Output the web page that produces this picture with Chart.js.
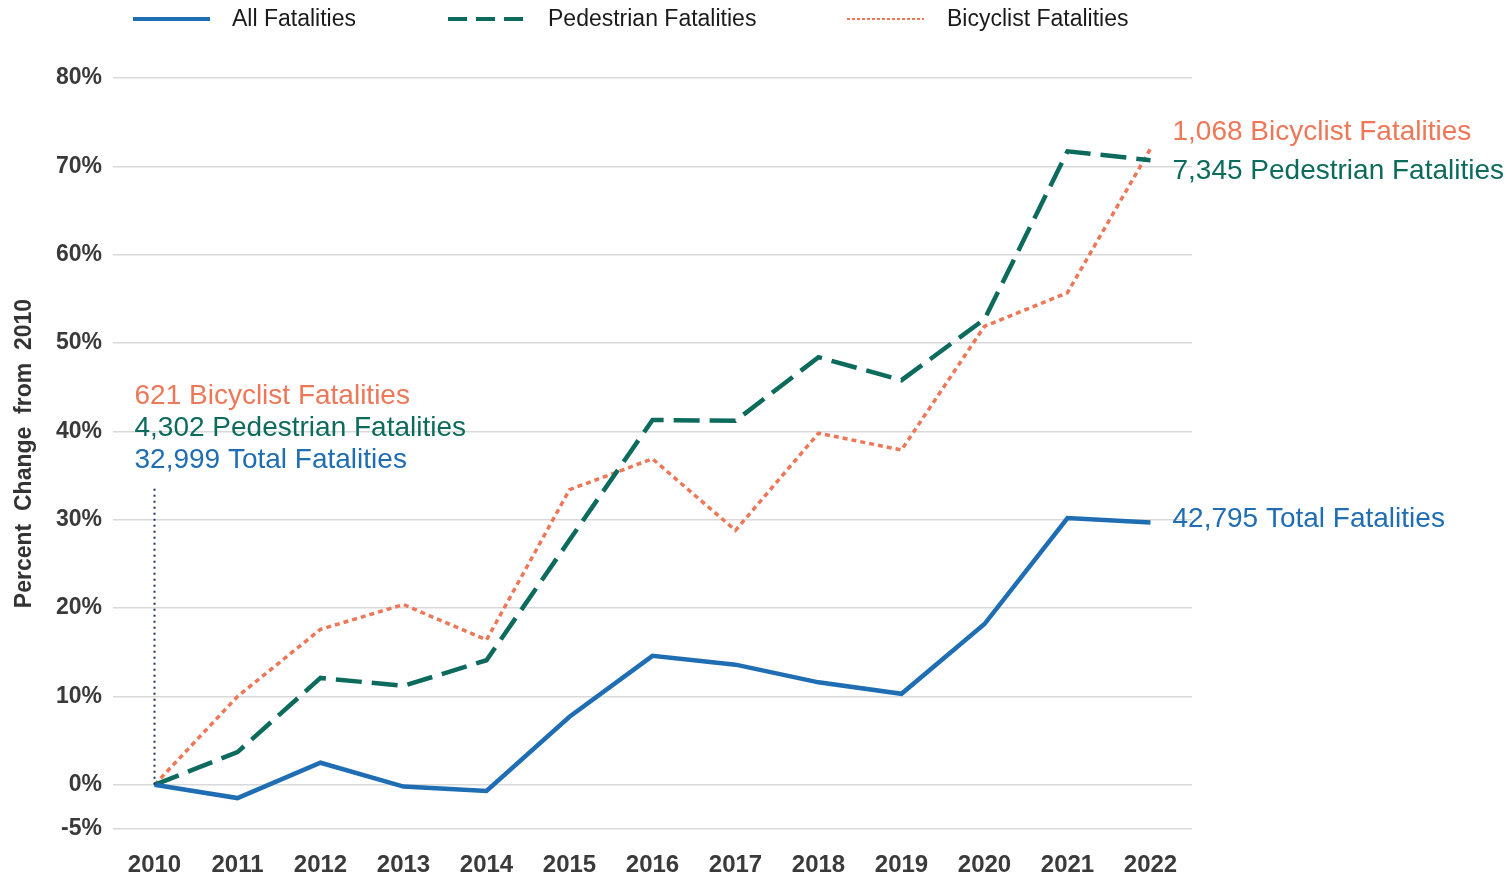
<!DOCTYPE html>
<html>
<head>
<meta charset="utf-8">
<script src="https://cdn.jsdelivr.net/npm/chart.js@4/dist/chart.umd.min.js"></script>
<style>
html,body{margin:0;padding:0;background:#fff;}
#wrap{width:1507px;height:876px;position:relative;}
</style>
</head>
<body>
<div id="wrap"><canvas id="mychart"></canvas></div>
<script>
// years and percent change from 2010
var years = ['2010','2011','2012','2013','2014','2015','2016','2017','2018','2019','2020','2021','2022']
var allFatal = [0, -1.5, 2.5, -0.2, -0.7, 7.7, 14.6, 13.6, 11.6, 10.3, 18.2, 30.2, 29.7]
var pedFatal = [0, 3.7, 12.1, 11.2, 14.1, 27.7, 41.3, 41.2, 48.4, 45.8, 52.7, 71.7, 70.7]
var bikeFatal = [0, 10.0, 17.6, 20.4, 16.4, 33.4, 36.9, 28.8, 39.8, 37.9, 51.9, 55.7, 72.0]
var yTicks = [-5, 0, 10, 20, 30, 40, 50, 60, 70, 80]
var seriesNames = ['All Fatalities', 'Pedestrian Fatalities', 'Bicyclist Fatalities']
var startLabels = ['621 Bicyclist Fatalities', '4,302 Pedestrian Fatalities', '32,999 Total Fatalities']
var endLabels = ['1,068 Bicyclist Fatalities', '7,345 Pedestrian Fatalities', '42,795 Total Fatalities']

var BLUE = '#1f6db3', TEAL = '#0d6b5d', ORANGE = '#ee7757', NAVY = '#1c3562'
var FAM = '"Liberation Sans", Arial, sans-serif'
var annoFont = '28px ' + FAM

var extras = {
  id: 'extras',
  afterDatasetsDraw: function(chart){
    var ctx = chart.ctx
    var xs = chart.scales.x, ys = chart.scales.y
    ctx.save()
    // dotted marker at 2010
    var x0 = xs.getPixelForValue(0)
    ctx.strokeStyle = NAVY
    ctx.lineWidth = 2
    ctx.setLineDash([2, 4])
    ctx.beginPath()
    ctx.moveTo(x0, ys.getPixelForValue(0))
    ctx.lineTo(x0, ys.getPixelForValue(33.6))
    ctx.stroke()
    ctx.restore()
  },
  afterDraw: function(chart){
    var ctx = chart.ctx
    var xs = chart.scales.x, ys = chart.scales.y
    ctx.save()
    ctx.font = annoFont
    ctx.textBaseline = 'middle'
    ctx.textAlign = 'left'
    var x0 = xs.getPixelForValue(0) - 20
    ctx.fillStyle = ORANGE; ctx.fillText(startLabels[0], x0, ys.getPixelForValue(44.0))
    ctx.fillStyle = TEAL; ctx.fillText(startLabels[1], x0, ys.getPixelForValue(40.3))
    ctx.fillStyle = BLUE; ctx.fillText(startLabels[2], x0, ys.getPixelForValue(36.7))
    var last = years.length - 1
    var x1 = xs.getPixelForValue(last) + 22
    ctx.fillStyle = ORANGE; ctx.fillText(endLabels[0], x1, ys.getPixelForValue(bikeFatal[last]) - 16)
    ctx.fillStyle = TEAL; ctx.fillText(endLabels[1], x1, ys.getPixelForValue(pedFatal[last]) + 11)
    ctx.fillStyle = BLUE; ctx.fillText(endLabels[2], x1, ys.getPixelForValue(allFatal[last]) - 3)

    // legend
    ctx.font = '23px ' + FAM
    ctx.fillStyle = '#1a1a1a'
    var lg = [
      {x: 133, tx: 232, color: BLUE, w: 4, dash: []},
      {x: 448, tx: 548, color: TEAL, w: 4, dash: [19, 9]},
      {x: 847, tx: 947, color: ORANGE, w: 2, dash: [3, 2]}
    ]
    lg.forEach(function(l, i){
      ctx.strokeStyle = l.color
      ctx.lineWidth = l.w
      ctx.setLineDash(l.dash)
      ctx.beginPath()
      ctx.moveTo(l.x, 19)
      ctx.lineTo(l.x + 77, 19)
      ctx.stroke()
      ctx.setLineDash([])
      ctx.fillText(seriesNames[i], l.tx, 20)
    })
    ctx.restore()
  }
}

var mychart = document.getElementById('mychart').getContext('2d')
var chart = new Chart(mychart, {
  type: 'line',
  data: {
    labels: years,
    datasets: [
      {label: seriesNames[0], data: allFatal, borderColor: BLUE, borderWidth: 4.5, pointRadius: 0, tension: 0},
      {label: seriesNames[1], data: pedFatal, borderColor: TEAL, borderWidth: 4.5, borderDash: [26, 10], pointRadius: 0, tension: 0},
      {label: seriesNames[2], data: bikeFatal, borderColor: ORANGE, borderWidth: 3.5, borderDash: [5, 4], pointRadius: 0, tension: 0}
    ]
  },
  options: {
    responsive: true,
    maintainAspectRatio: false,
    animation: false,
    layout: {padding: {top: 78, right: 315, bottom: 0, left: 0}},
    plugins: {legend: {display: false}, tooltip: {enabled: false}},
    scales: {
      x: {
        offset: true,
        grid: {display: false, drawTicks: false},
        border: {display: false},
        ticks: {padding: 22, color: '#3a3a3a', font: {family: FAM, size: 24, weight: 'bold'}, maxRotation: 0},
        afterFit: function(s){ s.height = 47 }
      },
      y: {
        min: -5, max: 80,
        afterBuildTicks: function(s){ s.ticks = yTicks.map(function(v){ return {value: v} }) },
        grid: {color: '#d9d9d9', lineWidth: 1.5, drawTicks: false},
        border: {display: false},
        ticks: {padding: 11, color: '#3a3a3a', font: {family: FAM, size: 23, weight: 'bold'},
          callback: function(v){ return v + '%' }},
        title: {display: true, text: 'Percent  Change  from  2010', color: '#333',
          font: {family: FAM, size: 23, weight: 'bold'}, padding: {top: 11, bottom: 0}},
        afterFit: function(s){ s.width = 113 }
      }
    }
  },
  plugins: [extras]
})
</script>
</body>
</html>
